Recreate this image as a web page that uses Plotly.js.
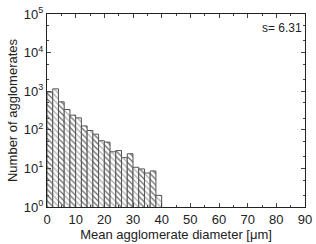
<!DOCTYPE html>
<html><head><meta charset="utf-8">
<script src="https://cdn.plot.ly/plotly-3.0.1.min.js"></script>
<style>html,body{margin:0;padding:0;background:#fff}</style>
</head><body><div id="chart" style="width:316px;height:244px"></div>
<script>
const binCenters = [1,3,5,7,9,11,13,15,17,19,21,23,25,27,29,31,33,35,37,39];
const counts = [950,1150,530,336,240,204,126,96,77,52,48,27,29,19,24,10.7,9.7,7.6,8.6,2];
const yTickVals = [1,10,100,1000,10000,100000];
const yTickText = ['10<sup>0</sup>','10<sup>1</sup>','10<sup>2</sup>','10<sup>3</sup>','10<sup>4</sup>','10<sup>5</sup>'];
const xTickVals = [0,10,20,30,40,50,60,70,80,90];

const fg = binCenters.map((c,i)=> i%2===0 ? '#666' : '#aaa');
const font = {family:'Liberation Sans, Arial, sans-serif', size:13, color:'#222'};
Plotly.newPlot('chart', [{
  type:'bar', x:binCenters, y:counts, width:2,
  marker:{color:'#fff', line:{color:'#555', width:1},
    pattern:{shape:'\\', fgcolor:fg, bgcolor:'#fff', size:4, solidity:0.3}},
  hoverinfo:'none'
}], {
  width:316, height:244, margin:{l:47, r:11, t:14, b:37},
  paper_bgcolor:'#fff', plot_bgcolor:'#fff', showlegend:false, bargap:0,
  font:font,
  xaxis:{range:[0,90], tickvals:xTickVals, ticks:'inside', ticklen:4, mirror:'ticks',
    showline:true, linecolor:'#222', linewidth:1, showgrid:false, zeroline:false,
    minor:{ticks:'inside', ticklen:2, dtick:5},
    title:{text:'Mean agglomerate diameter [μm]', font:{size:13}, standoff:1}},
  yaxis:{type:'log', range:[0,5], tickvals:yTickVals, ticktext:yTickText, ticks:'inside', ticklen:4,
    mirror:'ticks', showline:true, linecolor:'#222', linewidth:1, showgrid:false, zeroline:false,
    minor:{ticks:'inside', ticklen:2},
    title:{text:'Number of agglomerates', font:{size:13}, standoff:3}},
  annotations:[{text:'s= 6.31', xref:'paper', yref:'paper', x:0.995, y:0.975, xanchor:'right', yanchor:'top',
    showarrow:false, font:{size:12}}]
}, {staticPlot:true});
</script></body></html>
